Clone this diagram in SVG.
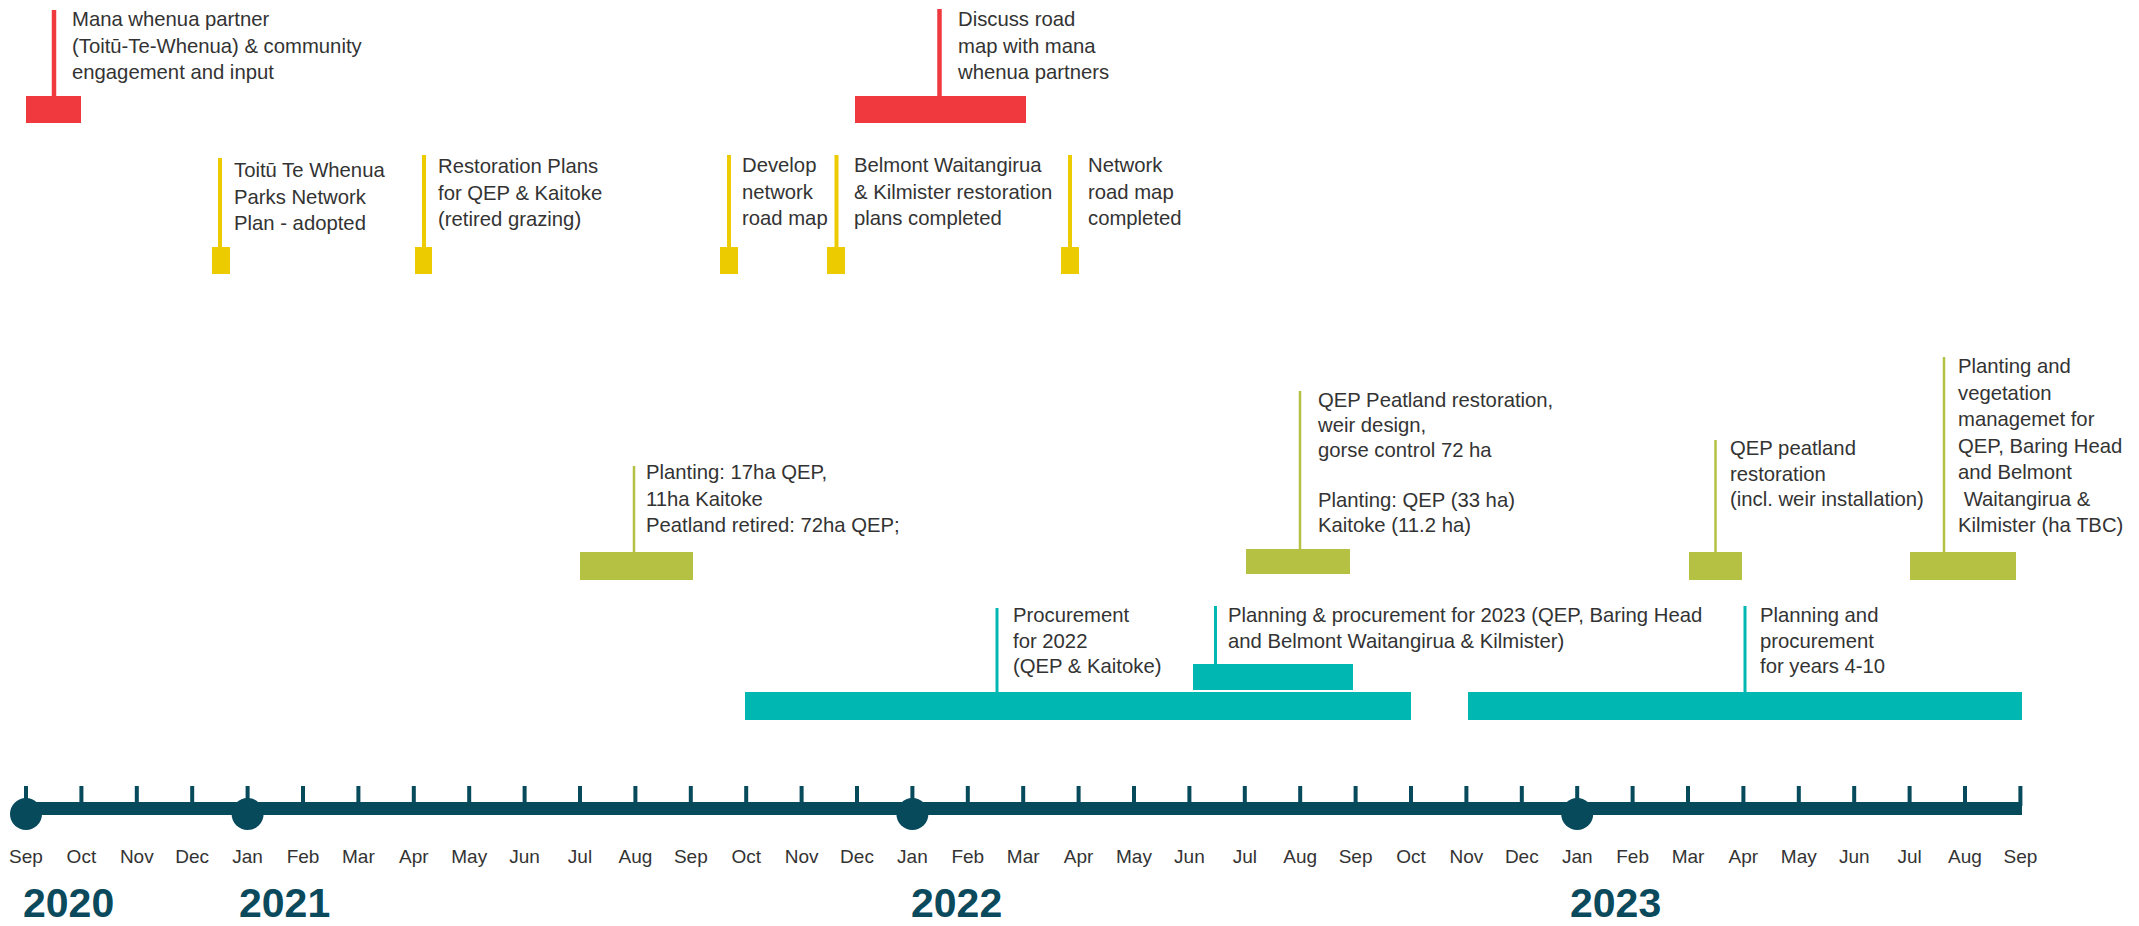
<svg xmlns="http://www.w3.org/2000/svg" width="2139" height="926" viewBox="0 0 2139 926">
  <style>
    .lbl { font-family: "Liberation Sans", Arial, sans-serif; font-size: 20.3px; fill: #333333; }
    .mon { font-family: "Liberation Sans", Arial, sans-serif; font-size: 19px; fill: #333333; text-anchor: middle; }
    .yr { font-family: "Liberation Sans", Arial, sans-serif; font-size: 41px; font-weight: bold; fill: #0a4a5c; }
    .red { fill: #f0393e; }
    .yel { fill: #eccb00; }
    .olv { fill: #b4c143; }
    .teal { fill: #00b8b1; }
    .axis { fill: #064a5c; }
    .s-red { stroke: #f0393e; stroke-width: 4.5; }
    .s-yel { stroke: #eccb00; stroke-width: 4; }
    .s-olv { stroke: #b4c143; stroke-width: 2.5; }
    .s-teal { stroke: #00b8b1; stroke-width: 3; }
  </style>
  <rect width="2139" height="926" fill="#ffffff"/>

  <!-- stems linking each label to its bar -->
  <g id="connectors" fill="none">
    <line class="s-red" x1="54" y1="10" x2="54" y2="97"/>
    <line class="s-red" x1="939.5" y1="9" x2="939.5" y2="97"/>
    <line class="s-yel" x1="220" y1="158" x2="220" y2="248"/>
    <line class="s-yel" x1="424" y1="155" x2="424" y2="248"/>
    <line class="s-yel" x1="729" y1="155" x2="729" y2="248"/>
    <line class="s-yel" x1="836.5" y1="155" x2="836.5" y2="248"/>
    <line class="s-yel" x1="1070" y1="155" x2="1070" y2="248"/>
    <line class="s-olv" x1="634" y1="466" x2="634" y2="553"/>
    <line class="s-olv" x1="1300" y1="391" x2="1300" y2="550"/>
    <line class="s-olv" x1="1715.5" y1="440" x2="1715.5" y2="553"/>
    <line class="s-olv" x1="1944" y1="357" x2="1944" y2="553"/>
    <line class="s-teal" x1="997" y1="608" x2="997" y2="693"/>
    <line class="s-teal" x1="1215.5" y1="606" x2="1215.5" y2="665"/>
    <line class="s-teal" x1="1745" y1="606" x2="1745" y2="693"/>
  </g>

  <!-- engagement (red) -->
  <g id="mana-whenua-engagement">
    <rect class="red" x="26" y="96" width="55" height="27"/>
    <text class="lbl" x="72" y="26">Mana whenua partner</text>
    <text class="lbl" x="72" y="52.5">(Toitū-Te-Whenua) &amp; community</text>
    <text class="lbl" x="72" y="79">engagement and input</text>
  </g>
  <g id="discuss-road-map">
    <rect class="red" x="855" y="96" width="171" height="27"/>
    <text class="lbl" x="958" y="26">Discuss road</text>
    <text class="lbl" x="958" y="52.5">map with mana</text>
    <text class="lbl" x="958" y="79">whenua partners</text>
  </g>

  <!-- planning milestones (yellow) -->
  <g id="network-plan-adopted">
    <rect class="yel" x="212" y="247" width="18" height="27"/>
    <text class="lbl" x="234" y="177">Toitū Te Whenua</text>
    <text class="lbl" x="234" y="203.5">Parks Network</text>
    <text class="lbl" x="234" y="230">Plan - adopted</text>
  </g>
  <g id="restoration-plans">
    <rect class="yel" x="415" y="247" width="17" height="27"/>
    <text class="lbl" x="438" y="173">Restoration Plans</text>
    <text class="lbl" x="438" y="199.5">for QEP &amp; Kaitoke</text>
    <text class="lbl" x="438" y="226">(retired grazing)</text>
  </g>
  <g id="develop-road-map">
    <rect class="yel" x="720" y="247" width="18" height="27"/>
    <text class="lbl" x="742" y="172">Develop</text>
    <text class="lbl" x="742" y="198.5">network</text>
    <text class="lbl" x="742" y="225">road map</text>
  </g>
  <g id="belmont-kilmister-plans">
    <rect class="yel" x="827" y="247" width="18" height="27"/>
    <text class="lbl" x="854" y="172">Belmont Waitangirua</text>
    <text class="lbl" x="854" y="198.5">&amp; Kilmister restoration</text>
    <text class="lbl" x="854" y="225">plans completed</text>
  </g>
  <g id="road-map-completed">
    <rect class="yel" x="1061" y="247" width="18" height="27"/>
    <text class="lbl" x="1088" y="172">Network</text>
    <text class="lbl" x="1088" y="198.5">road map</text>
    <text class="lbl" x="1088" y="225">completed</text>
  </g>

  <!-- on-the-ground works (olive) -->
  <g id="planting-2021">
    <rect class="olv" x="580" y="552" width="113" height="28"/>
    <text class="lbl" x="646" y="479">Planting: 17ha QEP,</text>
    <text class="lbl" x="646" y="505.5">11ha Kaitoke</text>
    <text class="lbl" x="646" y="532">Peatland retired: 72ha QEP;</text>
  </g>
  <g id="peatland-restoration-2022">
    <rect class="olv" x="1246" y="549" width="104" height="25"/>
    <text class="lbl" x="1318" y="407">QEP Peatland restoration,</text>
    <text class="lbl" x="1318" y="432">weir design,</text>
    <text class="lbl" x="1318" y="457">gorse control 72 ha</text>
    <text class="lbl" x="1318" y="507">Planting: QEP (33 ha)</text>
    <text class="lbl" x="1318" y="532">Kaitoke (11.2 ha)</text>
  </g>
  <g id="peatland-weir-installation">
    <rect class="olv" x="1689" y="552" width="53" height="28"/>
    <text class="lbl" x="1730" y="455">QEP peatland</text>
    <text class="lbl" x="1730" y="480.5">restoration</text>
    <text class="lbl" x="1730" y="506">(incl. weir installation)</text>
  </g>
  <g id="planting-vegetation-2023">
    <rect class="olv" x="1910" y="552" width="106" height="28"/>
    <text class="lbl" x="1958" y="373">Planting and</text>
    <text class="lbl" x="1958" y="399.5">vegetation</text>
    <text class="lbl" x="1958" y="426">managemet for</text>
    <text class="lbl" x="1958" y="452.5">QEP, Baring Head</text>
    <text class="lbl" x="1958" y="479">and Belmont</text>
    <text class="lbl" x="1958" y="505.5" xml:space="preserve"> Waitangirua &amp;</text>
    <text class="lbl" x="1958" y="532">Kilmister (ha TBC)</text>
  </g>

  <!-- procurement (teal) -->
  <g id="procurement-2022">
    <rect class="teal" x="745" y="692" width="666" height="28"/>
    <text class="lbl" x="1013" y="622">Procurement</text>
    <text class="lbl" x="1013" y="647.5">for 2022</text>
    <text class="lbl" x="1013" y="673">(QEP &amp; Kaitoke)</text>
  </g>
  <g id="procurement-2023">
    <rect class="teal" x="1193" y="664" width="160" height="26"/>
    <text class="lbl" x="1228" y="622">Planning &amp; procurement for 2023 (QEP, Baring Head</text>
    <text class="lbl" x="1228" y="648">and Belmont Waitangirua &amp; Kilmister)</text>
  </g>
  <g id="procurement-years-4-10">
    <rect class="teal" x="1468" y="692" width="554" height="28"/>
    <text class="lbl" x="1760" y="622">Planning and</text>
    <text class="lbl" x="1760" y="647.5">procurement</text>
    <text class="lbl" x="1760" y="673">for years 4-10</text>
  </g>

  <!-- time axis: Sep 2020 to Sep 2023, one tick per month (55.4 px) -->
  <g id="timeline">
    <rect class="axis" x="26" y="802" width="1996" height="13"/>
    <g class="axis">
      <rect x="24" y="786" width="4" height="20"/>
      <rect x="79.4" y="786" width="4" height="20"/>
      <rect x="134.8" y="786" width="4" height="20"/>
      <rect x="190.2" y="786" width="4" height="20"/>
      <rect x="245.6" y="786" width="4" height="20"/>
      <rect x="301" y="786" width="4" height="20"/>
      <rect x="356.4" y="786" width="4" height="20"/>
      <rect x="411.8" y="786" width="4" height="20"/>
      <rect x="467.2" y="786" width="4" height="20"/>
      <rect x="522.6" y="786" width="4" height="20"/>
      <rect x="578" y="786" width="4" height="20"/>
      <rect x="633.4" y="786" width="4" height="20"/>
      <rect x="688.8" y="786" width="4" height="20"/>
      <rect x="744.2" y="786" width="4" height="20"/>
      <rect x="799.6" y="786" width="4" height="20"/>
      <rect x="855" y="786" width="4" height="20"/>
      <rect x="910.4" y="786" width="4" height="20"/>
      <rect x="965.8" y="786" width="4" height="20"/>
      <rect x="1021.2" y="786" width="4" height="20"/>
      <rect x="1076.6" y="786" width="4" height="20"/>
      <rect x="1132" y="786" width="4" height="20"/>
      <rect x="1187.4" y="786" width="4" height="20"/>
      <rect x="1242.8" y="786" width="4" height="20"/>
      <rect x="1298.2" y="786" width="4" height="20"/>
      <rect x="1353.6" y="786" width="4" height="20"/>
      <rect x="1409" y="786" width="4" height="20"/>
      <rect x="1464.4" y="786" width="4" height="20"/>
      <rect x="1519.8" y="786" width="4" height="20"/>
      <rect x="1575.2" y="786" width="4" height="20"/>
      <rect x="1630.6" y="786" width="4" height="20"/>
      <rect x="1686" y="786" width="4" height="20"/>
      <rect x="1741.4" y="786" width="4" height="20"/>
      <rect x="1796.8" y="786" width="4" height="20"/>
      <rect x="1852.2" y="786" width="4" height="20"/>
      <rect x="1907.6" y="786" width="4" height="20"/>
      <rect x="1963" y="786" width="4" height="20"/>
      <rect x="2018.4" y="786" width="4" height="20"/>
      <circle cx="26" cy="814" r="16"/>
      <circle cx="247.6" cy="814" r="16"/>
      <circle cx="912.4" cy="814" r="16"/>
      <circle cx="1577.2" cy="814" r="16"/>
    </g>
    <g>
      <text class="mon" x="26" y="863">Sep</text>
      <text class="mon" x="81.4" y="863">Oct</text>
      <text class="mon" x="136.8" y="863">Nov</text>
      <text class="mon" x="192.2" y="863">Dec</text>
      <text class="mon" x="247.6" y="863">Jan</text>
      <text class="mon" x="303" y="863">Feb</text>
      <text class="mon" x="358.4" y="863">Mar</text>
      <text class="mon" x="413.8" y="863">Apr</text>
      <text class="mon" x="469.2" y="863">May</text>
      <text class="mon" x="524.6" y="863">Jun</text>
      <text class="mon" x="580" y="863">Jul</text>
      <text class="mon" x="635.4" y="863">Aug</text>
      <text class="mon" x="690.8" y="863">Sep</text>
      <text class="mon" x="746.2" y="863">Oct</text>
      <text class="mon" x="801.6" y="863">Nov</text>
      <text class="mon" x="857" y="863">Dec</text>
      <text class="mon" x="912.4" y="863">Jan</text>
      <text class="mon" x="967.8" y="863">Feb</text>
      <text class="mon" x="1023.2" y="863">Mar</text>
      <text class="mon" x="1078.6" y="863">Apr</text>
      <text class="mon" x="1134" y="863">May</text>
      <text class="mon" x="1189.4" y="863">Jun</text>
      <text class="mon" x="1244.8" y="863">Jul</text>
      <text class="mon" x="1300.2" y="863">Aug</text>
      <text class="mon" x="1355.6" y="863">Sep</text>
      <text class="mon" x="1411" y="863">Oct</text>
      <text class="mon" x="1466.4" y="863">Nov</text>
      <text class="mon" x="1521.8" y="863">Dec</text>
      <text class="mon" x="1577.2" y="863">Jan</text>
      <text class="mon" x="1632.6" y="863">Feb</text>
      <text class="mon" x="1688" y="863">Mar</text>
      <text class="mon" x="1743.4" y="863">Apr</text>
      <text class="mon" x="1798.8" y="863">May</text>
      <text class="mon" x="1854.2" y="863">Jun</text>
      <text class="mon" x="1909.6" y="863">Jul</text>
      <text class="mon" x="1965" y="863">Aug</text>
      <text class="mon" x="2020.4" y="863">Sep</text>
    </g>
    <g>
      <text class="yr" x="23" y="917">2020</text>
      <text class="yr" x="239" y="917">2021</text>
      <text class="yr" x="911" y="917">2022</text>
      <text class="yr" x="1570" y="917">2023</text>
    </g>
  </g>
</svg>
